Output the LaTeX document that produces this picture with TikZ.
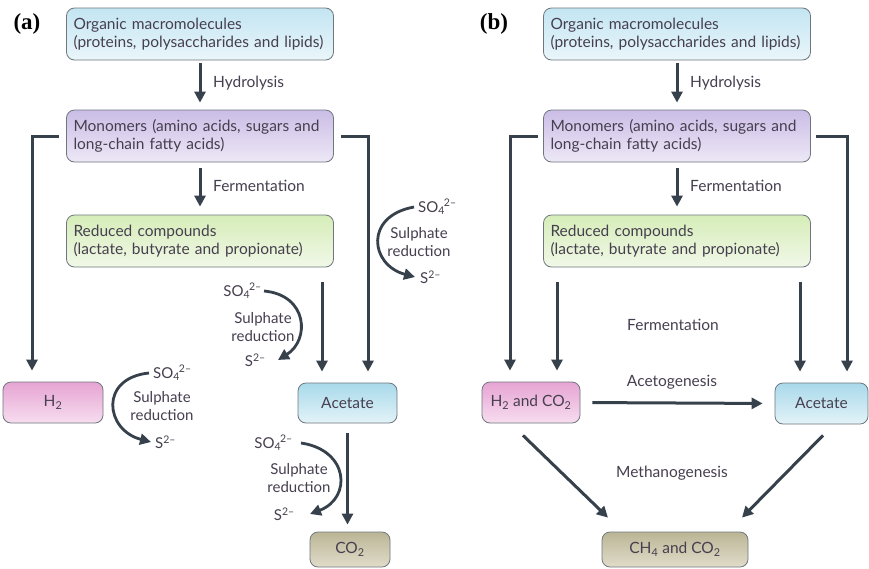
\documentclass[tikz,border=0pt]{standalone}
\usepackage{fontspec}
\setmainfont{Lato}
\newfontfamily\labfont{Liberation Serif}
\usetikzlibrary{arrows.meta,calc}
\definecolor{txt}{HTML}{463F4F}
\definecolor{arrc}{HTML}{36414B}
\definecolor{bord}{HTML}{6E777D}
\newcommand{\sulfate}{SO\textsubscript{4}\kern-1pt\textsuperscript{2–}}
\newcommand{\sulfide}{S\textsuperscript{2–}}
\tikzset{
  box/.style={draw=bord, line width=0.8pt, rounded corners=8pt, text=txt, inner sep=0pt,
    font=\fontsize{15.5}{18}\selectfont},
  wide/.style={box, minimum width=267pt, minimum height=52pt, text width=253pt, align=left},
  small/.style={box, align=center},
  arr/.style={draw=arrc, line width=3pt, -{Triangle[length=11pt,width=11pt]}},
  curv/.style={draw=arrc, line width=2.8pt, -{Triangle[length=11pt,width=11pt]}},
  lbl/.style={text=txt, font=\fontsize{15.5}{18}\selectfont, inner sep=0pt},
  slbl/.style={text=txt, font=\fontsize{15}{17.5}\selectfont, inner sep=0pt, align=center},
  panel/.style={font=\labfont\bfseries\fontsize{23}{24}\selectfont, inner sep=0pt},
  fblue/.style={top color=blueT, bottom color=blueB},
  fpurple/.style={top color=purT, bottom color=purB},
  fgreen/.style={top color=grnT, bottom color=grnB},
  fpink/.style={top color=pinkT, bottom color=pinkB},
  facet/.style={top color=acT, bottom color=acB},
  fkhaki/.style={top color=khT, bottom color=khB},
}
\definecolor{blueT}{HTML}{C3E5F2}
\definecolor{blueB}{HTML}{EAF6FA}
\definecolor{purT}{HTML}{CBBDE6}
\definecolor{purB}{HTML}{EDE8F6}
\definecolor{grnT}{HTML}{D6EDB8}
\definecolor{grnB}{HTML}{F1F8E8}
\definecolor{pinkT}{HTML}{E6A4D3}
\definecolor{pinkB}{HTML}{F7DDEF}
\definecolor{acT}{HTML}{A9D9EA}
\definecolor{acB}{HTML}{E3F3F8}
\definecolor{khT}{HTML}{BBB595}
\definecolor{khB}{HTML}{E0DCCA}
\begin{document}
\begin{tikzpicture}[x=1pt,y=-1pt]
\useasboundingbox[fill=white] (0,0) rectangle (869,568);
% ---------- panel (a) ----------
\node[panel] (la) at (27,24) {(a)};
\node[wide,fblue] (a1) at (200,34) {Organic macromolecules\\(proteins, polysaccharides and lipids)};
\node[wide,fpurple] (a2) at (200,136) {Monomers (amino acids, sugars and\\long-chain fatty acids)};
\node[wide,fgreen] (a3) at (200,241) {Reduced compounds\\(lactate, butyrate and propionate)};
\node[small,fpink,minimum width=100pt,minimum height=41pt] (aH) at (53,402.5) {H\textsubscript{2}};
\node[small,facet,minimum width=99pt,minimum height=40pt] (aAc) at (347.5,403) {Acetate};
\node[small,fkhaki,minimum width=80pt,minimum height=35pt] (aCO) at (350,549.5) {CO\textsubscript{2}};

\draw[arr,shorten <=3pt,shorten >=7pt] (a1) -- (a2);
\node[lbl,anchor=west] (ah) at (213,83) {Hydrolysis};
\draw[arr,shorten <=6pt,shorten >=8pt] (a2) -- (a3);
\node[lbl,anchor=west] (af) at (213,186) {Fermentation};

\draw[arr,shorten <=7pt,shorten >=11pt] (a2.west) -| ([xshift=-21pt]aH.north);
\draw[arr,shorten <=7pt,shorten >=11pt] (a2.east) -| ([xshift=20.5pt]aAc.north);
\draw[arr,shorten <=15pt,shorten >=11pt] ([xshift=122pt]a3.south) -- ([xshift=-25.5pt]aAc.north);
\draw[arr,shorten <=10pt,shorten >=7pt] (aAc.south) -- (aAc.south |- aCO.north);

% sulphate reduction 1 (top right of panel a)
\node[slbl,anchor=west] (so1) at (418,207) {\sulfate};
\node[slbl] (sr1) at (419,242) {Sulphate\\reduction};
\node[slbl,anchor=west] (s1) at (420,277) {\sulfide};
\draw[curv] ([xshift=-4pt]so1.west) .. controls +(-50,9) and +(-45,-12) .. ([xshift=-5pt]s1.west);
% sulphate reduction 2 (reduced -> acetate)
\node[slbl,anchor=east] (so2) at (262,291) {\sulfate};
\node[slbl] (sr2) at (263,327) {Sulphate\\reduction};
\node[slbl,anchor=east] (s2) at (266,360) {\sulfide};
\draw[curv] ([xshift=2pt]so2.east) .. controls +(44,4) and +(32,-20) .. ([xshift=12pt]s2.east);
% sulphate reduction 3 (H2)
\node[slbl,anchor=west] (so3) at (153,373) {\sulfate};
\node[slbl] (sr3) at (162,406) {Sulphate\\reduction};
\node[slbl,anchor=west] (s3) at (155,442) {\sulfide};
\draw[curv] ([xshift=-4pt]so3.west) .. controls +(-50,5) and +(-46,-12) .. ([xshift=-4pt]s3.west);
% sulphate reduction 4 (acetate -> CO2)
\node[slbl,anchor=east] (so4) at (293,443) {\sulfate};
\node[slbl] (sr4) at (299,478) {Sulphate\\reduction};
\node[slbl,anchor=east] (s4) at (295,514) {\sulfide};
\draw[curv] ([xshift=8pt]so4.east) .. controls +(48,7) and +(42,-16) .. ([xshift=15pt]s4.east);

% ---------- panel (b) ----------
\node[panel] (lb) at (494,24) {(b)};
\node[wide,fblue] (b1) at (677,34) {Organic macromolecules\\(proteins, polysaccharides and lipids)};
\node[wide,fpurple] (b2) at (677,136) {Monomers (amino acids, sugars and\\long-chain fatty acids)};
\node[wide,fgreen] (b3) at (677,241) {Reduced compounds\\(lactate, butyrate and propionate)};
\node[small,fpink,minimum width=98pt,minimum height=41pt] (bH) at (531,402.5) {H\textsubscript{2} and CO\textsubscript{2}};
\node[small,facet,minimum width=93pt,minimum height=41pt] (bAc) at (821.5,403.5) {Acetate};
\node[small,fkhaki,minimum width=146pt,minimum height=35pt] (bCH) at (675,549.5) {CH\textsubscript{4} and CO\textsubscript{2}};

\draw[arr,shorten <=3pt,shorten >=7pt] (b1) -- (b2);
\node[lbl,anchor=west] (bh) at (690,83) {Hydrolysis};
\draw[arr,shorten <=6pt,shorten >=8pt] (b2) -- (b3);
\node[lbl,anchor=west] (bf) at (690,186) {Fermentation};

\draw[arr,shorten <=5pt,shorten >=11pt] (b2.west) -| ([xshift=-21pt]bH.north);
\draw[arr,shorten <=5pt,shorten >=11pt] (b2.east) -| ([xshift=25.5pt]bAc.north);
\draw[arr,shorten <=15pt,shorten >=11pt] ([xshift=-120pt]b3.south) -- ([xshift=26pt]bH.north);
\draw[arr,shorten <=15pt,shorten >=11pt] ([xshift=123pt]b3.south) -- ([xshift=-21.5pt]bAc.north);
\node[lbl] (bf2) at (673,325) {Fermentation};

\draw[arr,shorten <=12pt,shorten >=12pt] (bH.east) -- (bAc.west);
\node[lbl] (bac) at (672,382) {Acetogenesis};

\draw[arr] ($(bH.south)+(-8,12)$) -- ($(bCH.north)+(-67,-14)$);
\draw[arr] ($(bAc.south)+(1.5,11)$) -- ($(bCH.north)+(67,-14)$);
\node[lbl] (bm) at (672,473) {Methanogenesis};
\end{tikzpicture}
\end{document}
